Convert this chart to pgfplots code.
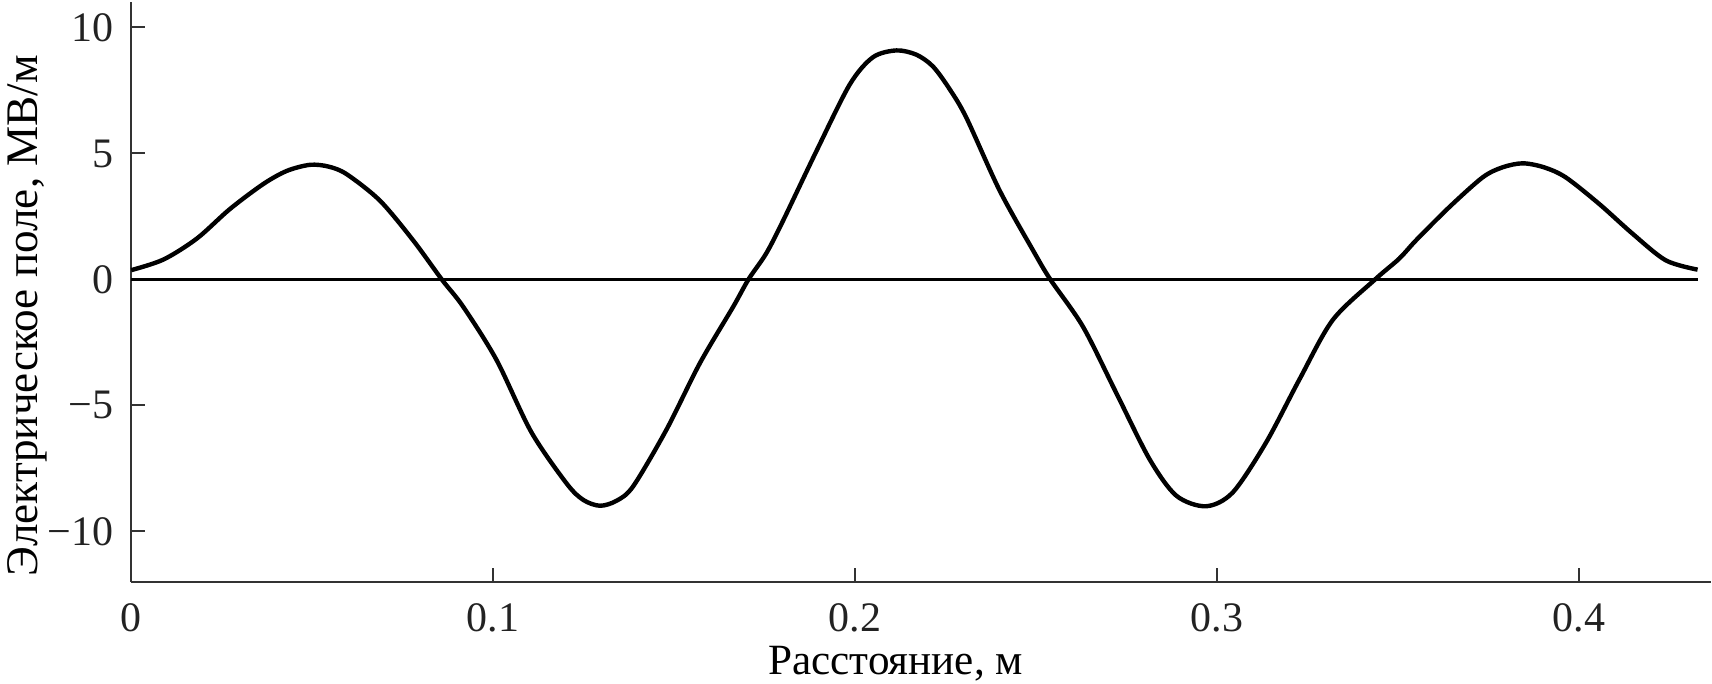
\documentclass[border=0pt]{standalone}
\usepackage{fontspec}
\setmainfont{Liberation Serif}
\usepackage{pgfplots}
\pgfplotsset{compat=1.18}
\definecolor{axgray}{HTML}{333333}
\definecolor{txtgray}{HTML}{222222}

\begin{document}
\begin{tikzpicture}
\begin{axis}[
  scale only axis,
  width=395.25pt, height=145pt,
  xmin=0, xmax=0.4364,
  ymin=-12, ymax=11,
  axis lines=left,
  axis line style={axgray, line width=0.5pt, -},
  tick style={axgray, line width=0.5pt},
  tick align=inside,
  major tick length=3.5pt,
  xtick={0,0.1,0.2,0.3,0.4},
  xticklabels={0,0.1,0.2,0.3,0.4},
  ytick={-10,-5,0,5,10},
  yticklabels={−10,−5,0,5,10},
  ticklabel style={font=\fontsize{10.5}{12}\selectfont, text=txtgray},
  x tick label style={yshift=-2pt},
  y tick label style={xshift=-1pt},
  label style={text=txtgray},
  xlabel={Расстояние, м},
  ylabel={Электрическое поле, МВ/м},
  every axis x label/.style={at={(axis description cs:0.4839,-0.1603)}, anchor=base,
    inner sep=0.5pt, font=\fontsize{10.8}{12}\selectfont},
  every axis y label/.style={at={(axis description cs:-0.066,0.4595)}, rotate=90, anchor=center,
    inner xsep=0pt, inner ysep=1.8pt, font=\fontsize{11.3}{13}\selectfont},
  clip=false,
]
% zero line
\addplot[black, line width=0.6pt] coordinates {(0,0) (0.4327,0)};
% field profile
\addplot[black, line width=1.1pt, smooth] table {
x y
0.0000 0.37
0.0089 0.79
0.0181 1.62
0.0273 2.80
0.0365 3.79
0.0430 4.31
0.0494 4.55
0.0545 4.48
0.0595 4.18
0.0687 3.13
0.0779 1.55
0.0858 0.00
0.0917 -1.08
0.1009 -3.19
0.1105 -6.05
0.1203 -8.10
0.1249 -8.75
0.1295 -8.98
0.1341 -8.78
0.1387 -8.20
0.1479 -5.95
0.1571 -3.32
0.1663 -1.08
0.1705 0.00
0.1754 1.03
0.1801 2.34
0.1893 5.10
0.1985 7.74
0.2049 8.82
0.2114 9.09
0.2169 8.92
0.2215 8.45
0.2261 7.55
0.2307 6.42
0.2399 3.53
0.2491 1.16
0.2539 0.00
0.2629 -1.87
0.2721 -4.50
0.2813 -7.13
0.2887 -8.58
0.2969 -9.00
0.3043 -8.45
0.3135 -6.47
0.3227 -3.97
0.3319 -1.61
0.3436 0.00
0.3503 0.83
0.3549 1.55
0.3641 2.87
0.3733 4.05
0.3788 4.45
0.3844 4.61
0.3903 4.45
0.3963 4.05
0.4055 3.00
0.4147 1.82
0.4239 0.76
0.4327 0.39
};
\end{axis}
\end{tikzpicture}
\end{document}
